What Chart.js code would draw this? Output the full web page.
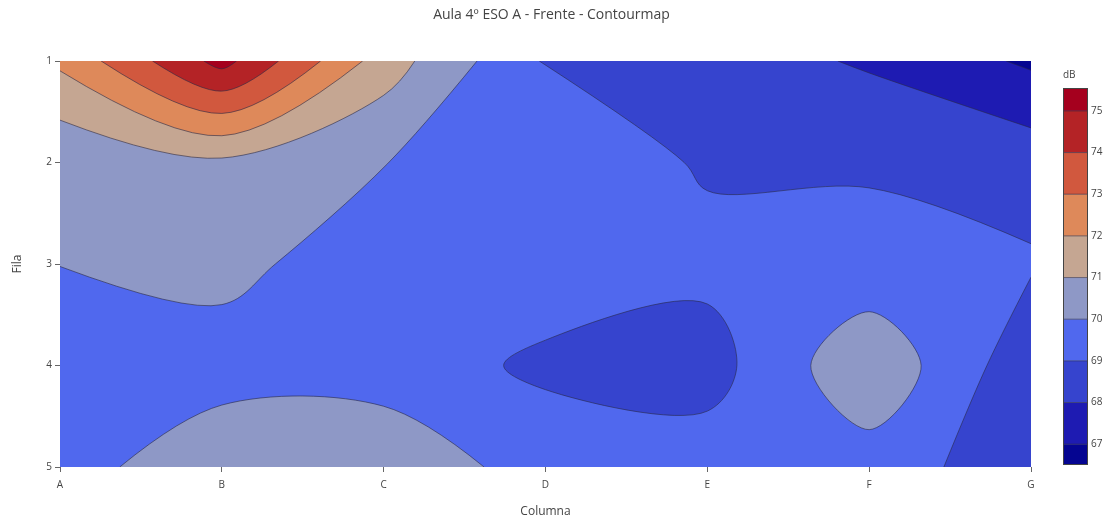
<!DOCTYPE html>
<html>
<head>
<meta charset="utf-8">
<script src="https://cdn.jsdelivr.net/npm/chart.js@4"></script>
<style>
    html, body { margin: 0; padding: 0; background: #fff; }
</style>
</head>
<body>
<canvas id="contour" width="1103" height="519"></canvas>
<script>
// grid of measured levels (dB), one array per row ("Fila"), columns A..G
const columns = ["A", "B", "C", "D", "E", "F", "G"];
const rows = [1, 2, 3, 4, 5];
const fila1 = [72.2, 75.35, 71.5, 68.9, 68.5, 67.88, 66.84];
const fila2 = [70.14, 70.8, 70.02, 69.6, 68.9, 68.9, 68.6];
const fila3 = [70.01, 70.4, 69.19, 69.45, 69.26, 69.3, 69.1];
const fila4 = [69.6, 69.4, 69.43, 68.85, 68.6, 70.79, 68.33];
const fila5 = [69.45, 70.94, 70.85, 69.48, 69.49, 69.54, 68.37];

// contour levels and the fill colour of each band (below 67 ... above 75)
const levels = [67, 68, 69, 70, 71, 72, 73, 74, 75];
const bandColors = [
    "#050591", "#1e1bb2", "#3644ce", "#5068ee", "#8e98c6",
    "#c5a692", "#de895a", "#d1583e", "#b42326", "#a5001e"
];

const grid = [fila1, fila2, fila3, fila4, fila5];
const textColor = "#444";
const lineColor = "rgba(40,40,70,0.85)";
const fontFamily = "'Open Sans', verdana, arial, sans-serif";

// marching squares on the data grid, paths oriented with the high side on the left
function contourPaths(L) {
    const nx = columns.length, ny = rows.length;
    const pos = {}, next = {}, incoming = {};
    const hi = (i, j) => grid[j][i] >= L;
    const cross = key => {
        if (pos[key]) return pos[key];
        const [t, a, b] = key.split(",");
        const i = +a, j = +b;
        const i2 = t === "h" ? i + 1 : i, j2 = t === "h" ? j : j + 1;
        const za = grid[j][i], zb = grid[j2][i2];
        const f = (L - za) / (zb - za);
        return pos[key] = {
            x: i + (i2 - i) * f, y: j + (j2 - j) * f,
            hx: za >= L ? i : i2, hy: za >= L ? j : j2
        };
    };
    for (let j = 0; j < ny - 1; j++) {
        for (let i = 0; i < nx - 1; i++) {
            const top = "h," + i + "," + j, bottom = "h," + i + "," + (j + 1);
            const left = "v," + i + "," + j, right = "v," + (i + 1) + "," + j;
            const tl = hi(i, j), tr = hi(i + 1, j), br = hi(i + 1, j + 1), bl = hi(i, j + 1);
            const edges = [];
            if (tl !== tr) edges.push(top);
            if (tr !== br) edges.push(right);
            if (br !== bl) edges.push(bottom);
            if (bl !== tl) edges.push(left);
            let pairs = [];
            if (edges.length === 2) pairs = [[edges[0], edges[1]]];
            else if (edges.length === 4) {
                const centerHi = (grid[j][i] + grid[j][i + 1] + grid[j + 1][i + 1] + grid[j + 1][i]) / 4 >= L;
                pairs = tl !== centerHi ? [[left, top], [right, bottom]] : [[top, right], [bottom, left]];
            }
            pairs.forEach(([a, b]) => {
                const p = cross(a), q = cross(b);
                const c = (q.x - p.x) * (p.hy - p.y) - (q.y - p.y) * (p.hx - p.x);
                if (c > 0) { next[b] = a; incoming[a] = true; }
                else { next[a] = b; incoming[b] = true; }
            });
        }
    }
    const opens = [], loops = [], visited = {};
    Object.keys(next).forEach(k => {
        if (incoming[k]) return;
        const pts = [];
        let cur = k;
        while (cur !== undefined) { visited[cur] = true; pts.push(pos[cur]); cur = next[cur]; }
        opens.push(pts);
    });
    Object.keys(next).forEach(k => {
        if (visited[k]) return;
        const pts = [];
        let cur = k;
        while (!visited[cur]) { visited[cur] = true; pts.push(pos[cur]); cur = next[cur]; }
        loops.push(pts);
    });
    return { opens, loops };
}

// drop points that sit too close together, like plotly does before smoothing
function cleanPts(pts, closed) {
    if (pts.length < 3) return pts;
    const d = (a, b) => Math.hypot(a[0] - b[0], a[1] - b[1]);
    let total = 0;
    for (let k = 1; k < pts.length; k++) total += d(pts[k], pts[k - 1]);
    const thr = total / (pts.length - 1) * 0.2;
    const out = pts.slice();
    for (let k = out.length - 2; k >= 0; k--) {
        if (out.length < 3) break;
        if (k + 1 >= out.length) continue;
        if (d(out[k], out[k + 1]) < thr) {
            let np;
            if (!closed && k + 1 === out.length - 1) np = out[k + 1];
            else if (!closed && k === 0) np = out[0];
            else np = [(out[k][0] + out[k + 1][0]) / 2, (out[k][1] + out[k + 1][1]) / 2];
            out.splice(k, 2, np);
        }
    }
    return out;
}

function tangent(prev, pt, nxt, s) {
    const d1x = prev[0] - pt[0], d1y = prev[1] - pt[1];
    const d2x = nxt[0] - pt[0], d2y = nxt[1] - pt[1];
    const d1a = Math.pow(d1x * d1x + d1y * d1y, 0.25);
    const d2a = Math.pow(d2x * d2x + d2y * d2y, 0.25);
    const numx = (d2a * d2a * d1x - d1a * d1a * d2x) * s;
    const numy = (d2a * d2a * d1y - d1a * d1a * d2y) * s;
    const den1 = 3 * d2a * (d1a + d2a), den2 = 3 * d1a * (d1a + d2a);
    return [
        [pt[0] + (den1 && numx / den1), pt[1] + (den1 && numy / den1)],
        [pt[0] - (den2 && numx / den2), pt[1] - (den2 && numy / den2)]
    ];
}

// continues the current path from pts[0] to the last point
function smoothOpen(ctx, pts) {
    if (pts.length < 3) { pts.slice(1).forEach(p => ctx.lineTo(p[0], p[1])); return; }
    const t = [];
    for (let i = 1; i < pts.length - 1; i++) t.push(tangent(pts[i - 1], pts[i], pts[i + 1], 1));
    ctx.quadraticCurveTo(t[0][0][0], t[0][0][1], pts[1][0], pts[1][1]);
    for (let i = 2; i < pts.length - 1; i++) {
        ctx.bezierCurveTo(t[i - 2][1][0], t[i - 2][1][1], t[i - 1][0][0], t[i - 1][0][1], pts[i][0], pts[i][1]);
    }
    const last = t[pts.length - 3][1], end = pts[pts.length - 1];
    ctx.quadraticCurveTo(last[0], last[1], end[0], end[1]);
}

function smoothClosed(ctx, pts) {
    ctx.moveTo(pts[0][0], pts[0][1]);
    if (pts.length < 3) { pts.slice(1).forEach(p => ctx.lineTo(p[0], p[1])); ctx.closePath(); return; }
    const n = pts.length;
    const t = pts.map((p, i) => tangent(pts[(i - 1 + n) % n], p, pts[(i + 1) % n], 1));
    for (let i = 1; i <= n; i++) {
        const a = t[i - 1][1], b = t[i % n][0], p = pts[i % n];
        ctx.bezierCurveTo(a[0], a[1], b[0], b[1], p[0], p[1]);
    }
    ctx.closePath();
}

const contourPlugin = {
    id: "contourPlugin",
    beforeDatasetsDraw(chart) {
        const { ctx, chartArea: a, scales: { x, y } } = chart;
        const W = columns.length - 1, H = rows.length - 1, P = 2 * (W + H);
        const toPx = p => [x.getPixelForValue(p.x), y.getPixelForValue(rows[0] + p.y)];
        const perimS = p => {
            const e = 1e-9;
            if (p.x <= e) return p.y;
            if (p.y >= H - e) return H + p.x;
            if (p.x >= W - e) return H + W + (H - p.y);
            return 2 * H + W + (W - p.x);
        };
        const corners = [
            { s: 0, x: 0, y: 0 }, { s: H, x: 0, y: H },
            { s: H + W, x: W, y: H }, { s: 2 * H + W, x: W, y: 0 }
        ];

        ctx.save();
        ctx.beginPath();
        ctx.rect(a.left, a.top, a.right - a.left, a.bottom - a.top);
        ctx.clip();
        ctx.fillStyle = bandColors[0];
        ctx.fillRect(a.left, a.top, a.right - a.left, a.bottom - a.top);

        const allPaths = levels.map(L => contourPaths(L));

        // filled regions z >= level, lowest first
        levels.forEach((L, m) => {
            const { opens, loops } = allPaths[m];
            ctx.beginPath();
            if (opens.length) {
                const info = opens.map(pts => ({
                    px: cleanPts(pts.map(toPx), false),
                    s0: perimS(pts[0]),
                    s1: perimS(pts[pts.length - 1])
                }));
                const used = info.map(() => false);
                for (let k = 0; k < info.length; k++) {
                    if (used[k]) continue;
                    let cur = k, first = true;
                    for (let guard = 0; guard < 50; guard++) {
                        used[cur] = true;
                        const o = info[cur];
                        if (first) { ctx.moveTo(o.px[0][0], o.px[0][1]); first = false; }
                        else ctx.lineTo(o.px[0][0], o.px[0][1]);
                        smoothOpen(ctx, o.px);
                        let best = -1, bestD = Infinity;
                        info.forEach((c, q) => {
                            const d = (c.s0 - o.s1 + P) % P;
                            if (d < bestD) { bestD = d; best = q; }
                        });
                        corners
                            .map(c => ({ c, d: (c.s - o.s1 + P) % P }))
                            .filter(e => e.d > 0 && e.d < bestD)
                            .sort((e1, e2) => e1.d - e2.d)
                            .forEach(e => { const p = toPx(e.c); ctx.lineTo(p[0], p[1]); });
                        if (best === k || used[best]) break;
                        cur = best;
                    }
                    ctx.closePath();
                }
            } else if (grid[0][0] >= L) {
                corners.forEach((c, q) => {
                    const p = toPx(c);
                    if (q === 0) ctx.moveTo(p[0], p[1]); else ctx.lineTo(p[0], p[1]);
                });
                ctx.closePath();
            }
            loops.forEach(pts => smoothClosed(ctx, cleanPts(pts.map(toPx), true)));
            ctx.fillStyle = bandColors[m + 1];
            ctx.fill("nonzero");
        });

        // contour lines
        ctx.strokeStyle = lineColor;
        ctx.lineWidth = 0.7;
        ctx.lineJoin = "round";
        allPaths.forEach(({ opens, loops }) => {
            ctx.beginPath();
            opens.forEach(pts => {
                const px = cleanPts(pts.map(toPx), false);
                ctx.moveTo(px[0][0], px[0][1]);
                smoothOpen(ctx, px);
            });
            loops.forEach(pts => smoothClosed(ctx, cleanPts(pts.map(toPx), true)));
            ctx.stroke();
        });
        ctx.restore();
    },
    afterDraw(chart) {
        const { ctx, chartArea: a } = chart;
        ctx.save();
        // title
        ctx.fillStyle = textColor;
        ctx.font = "14px " + fontFamily;
        ctx.textAlign = "center";
        ctx.textBaseline = "middle";
        ctx.fillText("Aula 4º ESO A - Frente - Contourmap", chart.width / 2, 15);

        // colorbar
        const cbLeft = a.right + 32, cbRight = a.right + 57, cbTop = 88, cbBottom = 465;
        const cbMin = 66.5, cbMax = 75.55;
        const toPx = v => cbBottom - (v - cbMin) / (cbMax - cbMin) * (cbBottom - cbTop);
        const edges = [cbMin, ...levels, cbMax];
        for (let b = 0; b < bandColors.length; b++) {
            const yTop = toPx(edges[b + 1]), yBot = toPx(edges[b]);
            ctx.fillStyle = bandColors[b];
            ctx.fillRect(cbLeft, yTop, cbRight - cbLeft, yBot - yTop);
        }
        ctx.strokeStyle = lineColor;
        ctx.lineWidth = 0.7;
        levels.forEach(L => {
            ctx.beginPath();
            ctx.moveTo(cbLeft, toPx(L));
            ctx.lineTo(cbRight, toPx(L));
            ctx.stroke();
        });
        ctx.strokeStyle = textColor;
        ctx.lineWidth = 1;
        ctx.strokeRect(cbLeft + 0.5, cbTop + 0.5, cbRight - cbLeft - 1, cbBottom - cbTop - 1);

        ctx.fillStyle = textColor;
        ctx.font = "10px " + fontFamily;
        ctx.textAlign = "left";
        levels.forEach(L => ctx.fillText(String(L), cbRight + 3, toPx(L)));
        ctx.fillText("dB", cbLeft, 75);
        ctx.restore();
    }
};

const points = [];
grid.forEach((fila, j) => fila.forEach((v, i) => points.push({ x: i, y: rows[j], v: v })));

new Chart(document.getElementById("contour").getContext("2d"), {
    type: "scatter",
    data: {
        datasets: [{
            label: "dB",
            data: points,
            pointRadius: 0,
            pointHoverRadius: 0
        }]
    },
    options: {
        responsive: false,
        animation: false,
        layout: { padding: { top: 61, right: 72, bottom: 0, left: 0 } },
        plugins: {
            legend: { display: false },
            tooltip: { enabled: false }
        },
        scales: {
            x: {
                type: "linear",
                min: 0,
                max: columns.length - 1,
                afterFit: scale => { scale.height = 52; },
                border: { display: false },
                grid: { drawOnChartArea: false, drawTicks: true, tickLength: 5, color: "#666" },
                ticks: {
                    stepSize: 1,
                    padding: 7,
                    color: textColor,
                    font: { family: fontFamily, size: 10 },
                    callback: v => columns[v]
                },
                title: {
                    display: true,
                    text: "Columna",
                    color: textColor,
                    font: { family: fontFamily, size: 12 },
                    padding: { top: 4, bottom: 0 }
                }
            },
            y: {
                type: "linear",
                reverse: true,
                min: rows[0],
                max: rows[rows.length - 1],
                afterFit: scale => { scale.width = 60; },
                border: { display: false },
                grid: { drawOnChartArea: false, drawTicks: true, tickLength: 5, color: "#666" },
                ticks: {
                    stepSize: 1,
                    padding: 3,
                    color: textColor,
                    font: { family: fontFamily, size: 10 }
                },
                title: {
                    display: true,
                    text: "Fila",
                    color: textColor,
                    font: { family: fontFamily, size: 12 },
                    padding: { top: 10, bottom: 4 }
                }
            }
        }
    },
    plugins: [contourPlugin]
});
</script>
</body>
</html>
